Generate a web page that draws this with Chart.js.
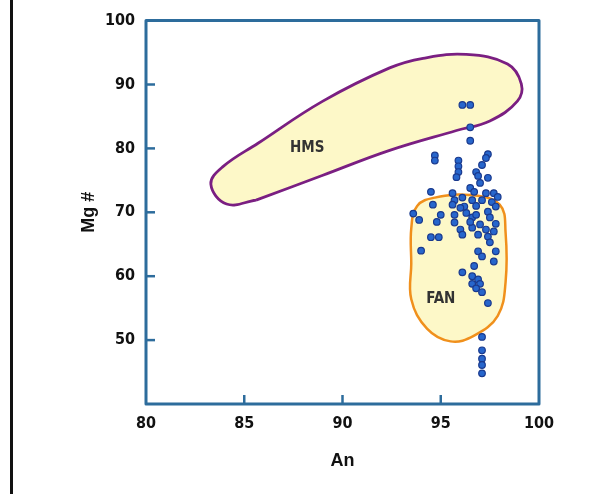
<!DOCTYPE html>
<html>
<head>
<meta charset="utf-8">
<script src="https://cdn.jsdelivr.net/npm/chart.js@4.4.1/dist/chart.umd.min.js"></script>
<style>
    body { margin: 0; background: #fff; }
    #wrap { position: absolute; left: 0; top: 0; width: 603px; height: 494px; }
    #edge { position: absolute; left: 10px; top: 0; width: 3px; height: 494px; background: #111; }
</style>
</head>
<body>
<div id="wrap">
    <canvas id="chart" width="603" height="494"></canvas>
    <div id="edge"></div>
</div>
<script>
// axes
const xTicks = [80, 85, 90, 95, 100];
const yTicks = [40, 50, 60, 70, 80, 90, 100];

// HMS field outline (An, Mg#)
const hmsAn = [85.6, 89.0, 92.4, 95.8, 97.5, 98.9, 99.1, 98.4, 96.3, 94.1, 92.4, 89.0, 85.7, 83.9, 83.3, 84.1, 85.6];
const hmsMg = [71.9, 75.8, 79.7, 82.8, 84.3, 87.4, 90.1, 93.2, 94.7, 94.1, 92.6, 87.4, 80.8, 77.1, 74.4, 71.3, 71.9];

// FAN field outline
const fanAn = [93.5, 93.5, 94.3, 95.5, 96.7, 97.9, 98.3, 98.3, 98.0, 96.5, 94.7, 93.8, 93.5, 93.5];
const fanMg = [62.0, 56.4, 51.8, 49.8, 50.7, 53.8, 59.1, 66.8, 71.2, 72.7, 72.3, 71.0, 67.5, 62.0];

// field labels
const fieldNames = ['HMS', 'FAN'];
const fieldAn = [88.2, 95.0];
const fieldMg = [80.0, 56.4];

// samples
const sampleAn = [
    96.1, 96.5, 96.5, 96.5, 94.7, 94.7, 95.9, 95.9, 95.9, 95.8,
    97.4, 97.3, 97.1, 96.8, 96.9, 97.4, 97.0, 94.5, 95.6, 96.5,
    96.7, 97.3, 97.7, 95.7, 96.1, 96.6, 97.1, 97.6, 97.9, 94.6,
    95.6, 97.8, 93.6, 93.9, 95.0, 94.8, 95.7, 95.7, 96.0, 96.1,
    96.3, 96.6, 96.8, 96.6, 97.0, 97.3, 96.9, 97.4, 97.7, 97.8,
    97.5, 94.5, 94.9, 94.0, 96.9, 97.1, 97.8, 97.7, 96.7, 96.1,
    96.6, 96.9, 97.0, 96.6, 96.8, 97.1, 97.4, 97.1, 97.1, 97.1,
    97.1, 97.1, 96.2, 97.4, 96.8, 97.5, 96.5, 96.0
];
const sampleMg = [
    86.8, 86.8, 83.3, 81.2, 78.9, 78.1, 78.1, 77.2, 76.3, 75.5,
    79.1, 78.5, 77.4, 76.3, 75.7, 75.4, 74.6, 73.2, 73.0, 73.8,
    73.2, 73.0, 73.0, 71.9, 72.3, 71.9, 71.9, 71.6, 72.4, 71.2,
    71.2, 70.9, 69.8, 68.8, 69.6, 68.5, 69.6, 68.4, 67.3, 66.5,
    69.9, 69.2, 69.6, 67.6, 68.1, 67.3, 66.5, 66.2, 67.0, 68.2,
    65.3, 66.1, 66.1, 64.0, 63.9, 63.1, 63.9, 62.3, 61.6, 60.6,
    60.0, 59.5, 58.8, 58.8, 58.1, 57.5, 55.8, 50.5, 48.4, 47.1,
    46.1, 44.8, 70.9, 70.1, 71.0, 69.2, 68.5, 70.7
];

const axisBlue = '#2d6c9c';
const narrow = "'Liberation Sans Narrow', 'Arial Narrow', 'DejaVu Sans Condensed', sans-serif";
const tickFont = { family: narrow, size: 16, weight: 'bold' };
const titleFont = { family: "'Liberation Sans', Arial, sans-serif", size: 18, weight: 'bold' };

function toPoints(xs, ys) {
    return xs.map((x, i) => ({ x: x, y: ys[i] }));
}

// frame, inward ticks and field names
const framePlugin = {
    id: 'frame',
    beforeDatasetsDraw(chart) {
        const { ctx, chartArea: a } = chart;
        ctx.save();
        ctx.strokeStyle = axisBlue;
        ctx.lineWidth = 3;
        ctx.lineJoin = 'round';
        ctx.strokeRect(a.left, a.top, a.right - a.left, a.bottom - a.top);
        ctx.lineWidth = 2.5;
        const xs = chart.scales.x, ys = chart.scales.y;
        xTicks.slice(1, -1).forEach(v => {
            const px = xs.getPixelForValue(v);
            ctx.beginPath();
            ctx.moveTo(px, a.bottom);
            ctx.lineTo(px, a.bottom - 9);
            ctx.stroke();
        });
        yTicks.slice(1, -1).forEach(v => {
            const py = ys.getPixelForValue(v);
            ctx.beginPath();
            ctx.moveTo(a.left, py);
            ctx.lineTo(a.left + 9, py);
            ctx.stroke();
        });
        ctx.restore();
    },
    afterDatasetsDraw(chart) {
        const ctx = chart.ctx;
        const xs = chart.scales.x, ys = chart.scales.y;
        ctx.save();
        ctx.fillStyle = '#333';
        ctx.font = 'bold 15px ' + narrow;
        ctx.textAlign = 'center';
        ctx.textBaseline = 'middle';
        fieldNames.forEach((name, i) => {
            ctx.fillText(name, xs.getPixelForValue(fieldAn[i]), ys.getPixelForValue(fieldMg[i]));
        });
        ctx.restore();
    }
};

new Chart(document.getElementById('chart'), {
    type: 'scatter',
    data: {
        datasets: [
            {
                label: 'samples',
                data: toPoints(sampleAn, sampleMg),
                pointStyle: 'circle',
                pointRadius: 3.3,
                backgroundColor: '#2766cc',
                borderColor: '#1a3a8e',
                borderWidth: 1.2,
                order: 0
            },
            {
                type: 'line',
                label: 'HMS',
                data: toPoints(hmsAn, hmsMg),
                borderColor: '#7a1f82',
                borderWidth: 2.8,
                backgroundColor: '#fdf8c8',
                fill: 'shape',
                tension: 0.4,
                pointRadius: 0,
                order: 2
            },
            {
                type: 'line',
                label: 'FAN',
                data: toPoints(fanAn, fanMg),
                borderColor: '#f0901c',
                borderWidth: 2.5,
                backgroundColor: '#fdf8c8',
                fill: 'shape',
                tension: 0.4,
                pointRadius: 0,
                order: 1
            }
        ]
    },
    options: {
        responsive: false,
        animation: false,
        layout: { padding: { left: 0, right: 64, top: 19, bottom: 0 } },
        plugins: { legend: { display: false }, tooltip: { enabled: false } },
        scales: {
            x: {
                type: 'linear',
                min: 80,
                max: 100,
                afterBuildTicks: s => { s.ticks = xTicks.map(v => ({ value: v })); },
                afterFit: s => { s.height = 90; },
                grid: { display: false, drawTicks: false },
                border: { display: false },
                ticks: { color: '#111', font: tickFont, padding: 10 },
                title: { display: true, text: 'An', color: '#111', font: titleFont, padding: { top: 0, bottom: 22 } }
            },
            y: {
                type: 'linear',
                min: 40,
                max: 100,
                afterBuildTicks: s => { s.ticks = yTicks.map(v => ({ value: v })); },
                afterFit: s => { s.width = 146; },
                grid: { display: false, drawTicks: false },
                border: { display: false },
                ticks: { color: '#111', font: tickFont, padding: 11, callback: v => (v === 40 ? '' : v) },
                title: { display: true, text: 'Mg #', color: '#111', font: titleFont, padding: { top: 78, bottom: 0 } }
            }
        }
    },
    plugins: [framePlugin]
});
</script>
</body>
</html>
